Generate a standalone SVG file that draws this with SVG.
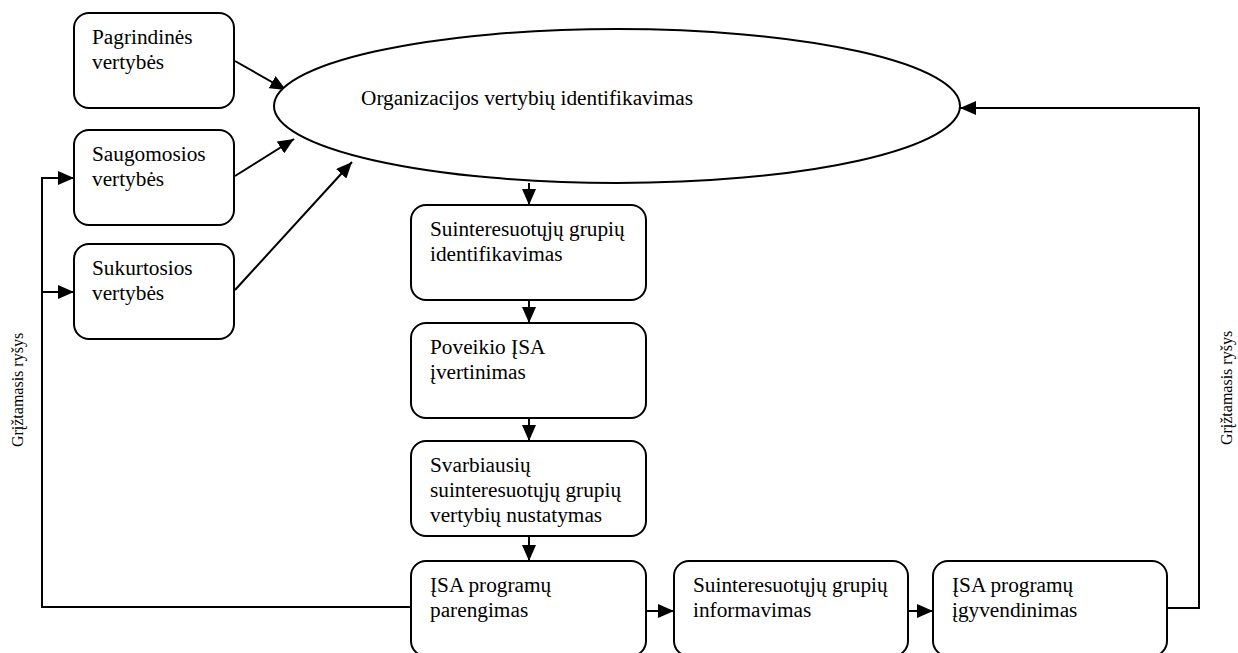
<svg xmlns="http://www.w3.org/2000/svg" width="1238" height="653" viewBox="0 0 1238 653">
<style>
.box{fill:#fff;stroke:#000;stroke-width:2}
.t{font-family:'Liberation Serif','Times New Roman',serif;font-size:21.3px;fill:#000}
.r{font-family:'Liberation Serif','Times New Roman',serif;font-size:16px;fill:#000}
.c{fill:none;stroke:#000;stroke-width:2}
</style>
<defs>
<marker id="a" markerWidth="16" markerHeight="14" refX="16" refY="7" orient="auto" markerUnits="userSpaceOnUse">
<path d="M0,0 L16,7 L0,14 Z" fill="#000"/>
</marker>
</defs>
<rect width="1238" height="653" fill="#fff"/>
<g id="connectors">
<line class="c" x1="235" y1="61" x2="286" y2="90" marker-end="url(#a)"/>
<line class="c" x1="235" y1="176" x2="294" y2="139" marker-end="url(#a)"/>
<line class="c" x1="235" y1="290" x2="352" y2="162" marker-end="url(#a)"/>
<line class="c" x1="529" y1="183" x2="529" y2="205" marker-end="url(#a)"/>
<line class="c" x1="529" y1="300" x2="529" y2="323" marker-end="url(#a)"/>
<line class="c" x1="529" y1="418" x2="529" y2="441" marker-end="url(#a)"/>
<line class="c" x1="529" y1="536" x2="529" y2="561" marker-end="url(#a)"/>
<line class="c" x1="646" y1="611" x2="674" y2="611" marker-end="url(#a)"/>
<line class="c" x1="908" y1="611" x2="933" y2="611" marker-end="url(#a)"/>
<polyline class="c" points="1167,608 1199,608 1199,108 960,108" marker-end="url(#a)"/>
<polyline class="c" points="411,607 42,607 42,178 74,178" marker-end="url(#a)"/>
<polyline class="c" points="42,292 74,292" marker-end="url(#a)"/>
</g>
<g id="n-pagrindines">
<rect class="box" x="74" y="13" width="160" height="95" rx="15"/>
<text class="t" x="92" y="44">Pagrindinės</text>
<text class="t" x="92" y="69">vertybės</text>
</g>
<g id="n-saugomosios">
<rect class="box" x="74" y="130" width="160" height="95" rx="15"/>
<text class="t" x="92" y="161">Saugomosios</text>
<text class="t" x="92" y="186">vertybės</text>
</g>
<g id="n-sukurtosios">
<rect class="box" x="74" y="244" width="160" height="95" rx="15"/>
<text class="t" x="92" y="275">Sukurtosios</text>
<text class="t" x="92" y="300">vertybės</text>
</g>
<g id="n-organizacijos">
<ellipse class="box" cx="617" cy="106" rx="343" ry="77"/>
<text class="t" x="361" y="105">Organizacijos vertybių identifikavimas</text>
</g>
<g id="n-suinteresuotuju">
<rect class="box" x="411" y="205" width="235" height="95" rx="15"/>
<text class="t" x="430" y="236">Suinteresuotųjų grupių</text>
<text class="t" x="430" y="261">identifikavimas</text>
</g>
<g id="n-poveikio">
<rect class="box" x="411" y="323" width="235" height="95" rx="15"/>
<text class="t" x="430" y="354">Poveikio ĮSA</text>
<text class="t" x="430" y="379">įvertinimas</text>
</g>
<g id="n-svarbiausiu">
<rect class="box" x="411" y="441" width="235" height="95" rx="15"/>
<text class="t" x="430" y="472">Svarbiausių</text>
<text class="t" x="430" y="497">suinteresuotųjų grupių</text>
<text class="t" x="430" y="522">vertybių nustatymas</text>
</g>
<g id="n-parengimas">
<rect class="box" x="411" y="561" width="235" height="95" rx="15"/>
<text class="t" x="430" y="592">ĮSA programų</text>
<text class="t" x="430" y="617">parengimas</text>
</g>
<g id="n-informavimas">
<rect class="box" x="674" y="561" width="234" height="95" rx="15"/>
<text class="t" x="693" y="592">Suinteresuotųjų grupių</text>
<text class="t" x="693" y="617">informavimas</text>
</g>
<g id="n-igyvendinimas">
<rect class="box" x="933" y="561" width="234" height="95" rx="15"/>
<text class="t" x="952" y="592">ĮSA programų</text>
<text class="t" x="952" y="617">įgyvendinimas</text>
</g>
<g id="labels">
<text class="r" transform="translate(23,390) rotate(-90)" text-anchor="middle">Grįžtamasis ryšys</text>
<text class="r" transform="translate(1232,388) rotate(-90)" text-anchor="middle">Grįžtamasis ryšys</text>
</g>
</svg>
